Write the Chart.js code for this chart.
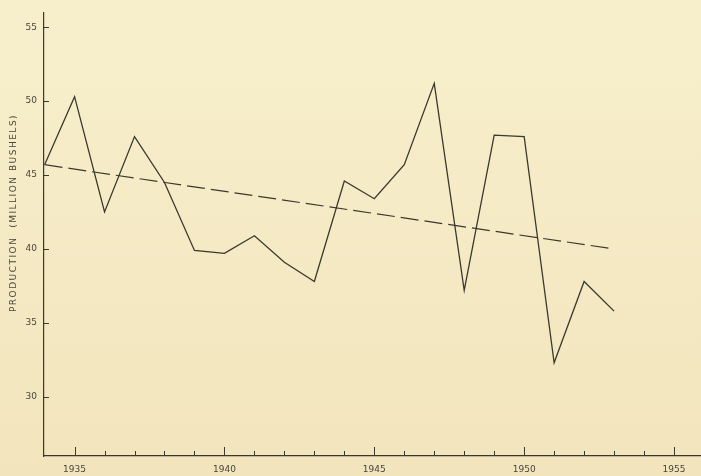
<!DOCTYPE html>
<html>
<head>
<meta charset="utf-8">
<title>Production (million bushels)</title>
<script src="https://cdn.jsdelivr.net/npm/chart.js@4.4.1/dist/chart.umd.min.js"></script>
<style>
  html, body { margin: 0; padding: 0; background: #f5ebc6; }
  #chart { display: block; }
</style>
</head>
<body>
<canvas id="chart" width="701" height="476"></canvas>
<script>
// Annual production, 1934-1953 (million bushels)
const years = [1934, 1935, 1936, 1937, 1938, 1939, 1940, 1941, 1942, 1943,
               1944, 1945, 1946, 1947, 1948, 1949, 1950, 1951, 1952, 1953];
const production = [45.7, 50.3, 42.5, 47.6, 44.5, 39.9, 39.7, 40.9, 39.1, 37.8,
                    44.6, 43.4, 45.7, 51.2, 37.2, 47.7, 47.6, 32.3, 37.8, 35.8];

// Straight-line trend over the same period
const trendYears = [1934, 1953];
const trendValues = [45.7, 40.0];

// Axis labels
const yTickValues = [30, 35, 40, 45, 50, 55];
const xTickLabels = [1935, 1940, 1945, 1950, 1955];
const yTitle = 'PRODUCTION  (MILLION BUSHELS)';

const INK = '#3b382e';
const TEXT = '#48463d';

// Paper background with a slight tone change top to bottom
const paper = {
  id: 'paper',
  beforeDraw(chart) {
    const { ctx, width, height } = chart;
    const g = ctx.createLinearGradient(0, 0, 0, height);
    g.addColorStop(0, '#f7efcc');
    g.addColorStop(1, '#f2e5bd');
    ctx.save();
    ctx.fillStyle = g;
    ctx.fillRect(0, 0, width, height);
    ctx.restore();
  }
};

// Inward tick marks: every year on x (longer at labelled years), labelled values on y
const tickMarks = {
  id: 'tickMarks',
  afterDraw(chart) {
    const { ctx } = chart;
    const xs = chart.scales.x, ys = chart.scales.y;
    ctx.save();
    ctx.strokeStyle = INK;
    ctx.lineWidth = 1;
    ctx.beginPath();
    for (let yr = Math.ceil(xs.min + 0.5); yr <= Math.floor(xs.max); yr++) {
      const px = Math.round(xs.getPixelForValue(yr)) + 0.5;
      const len = xTickLabels.includes(yr) ? 9 : 5;
      ctx.moveTo(px, xs.top);
      ctx.lineTo(px, xs.top - len);
    }
    yTickValues.forEach(v => {
      const py = Math.round(ys.getPixelForValue(v)) + 0.5;
      ctx.moveTo(ys.right, py);
      ctx.lineTo(ys.right + 5, py);
    });
    ctx.stroke();

    // Rotated y-axis title
    ctx.fillStyle = TEXT;
    ctx.font = '9px "DejaVu Sans"';
    ctx.letterSpacing = '1.5px';
    ctx.textAlign = 'center';
    ctx.textBaseline = 'middle';
    ctx.translate(14, 213);
    ctx.rotate(-Math.PI / 2);
    ctx.fillText(yTitle, 0, 0);
    ctx.restore();
  }
};

new Chart(document.getElementById('chart'), {
  type: 'line',
  data: {
    datasets: [
      {
        label: 'Production',
        data: years.map((yr, i) => ({ x: yr, y: production[i] })),
        borderColor: INK,
        borderWidth: 1.3,
        pointRadius: 0,
        tension: 0,
        fill: false
      },
      {
        label: 'Trend',
        data: trendYears.map((yr, i) => ({ x: yr, y: trendValues[i] })),
        borderColor: INK,
        borderWidth: 1.2,
        borderDash: [18, 6],
        pointRadius: 0,
        tension: 0,
        fill: false
      }
    ]
  },
  options: {
    responsive: false,
    animation: false,
    events: [],
    layout: { padding: { top: 10, right: 0, bottom: 0, left: 0 } },
    plugins: {
      legend: { display: false },
      tooltip: { enabled: false },
      title: { display: false }
    },
    scales: {
      x: {
        type: 'linear',
        min: 1933.98,
        max: 1955.9,
        afterBuildTicks: s => { s.ticks = xTickLabels.map(v => ({ value: v })); },
        afterFit: s => { s.height = 20; },
        grid: { display: false, drawTicks: false },
        border: { display: true, color: INK, width: 1.2 },
        ticks: {
          autoSkip: false,
          maxRotation: 0,
          padding: 8,
          color: TEXT,
          font: { family: 'DejaVu Sans', size: 9 },
          callback: v => String(v)
        }
      },
      y: {
        type: 'linear',
        min: 26,
        max: 56,
        afterBuildTicks: s => { s.ticks = yTickValues.map(v => ({ value: v })); },
        afterFit: s => { s.width = 44; },
        grid: { display: false, drawTicks: false },
        border: { display: true, color: INK, width: 1.2 },
        ticks: {
          padding: 7,
          color: TEXT,
          font: { family: 'DejaVu Sans', size: 9 },
          callback: v => String(v)
        }
      }
    }
  },
  plugins: [paper, tickMarks]
});
</script>
</body>
</html>
